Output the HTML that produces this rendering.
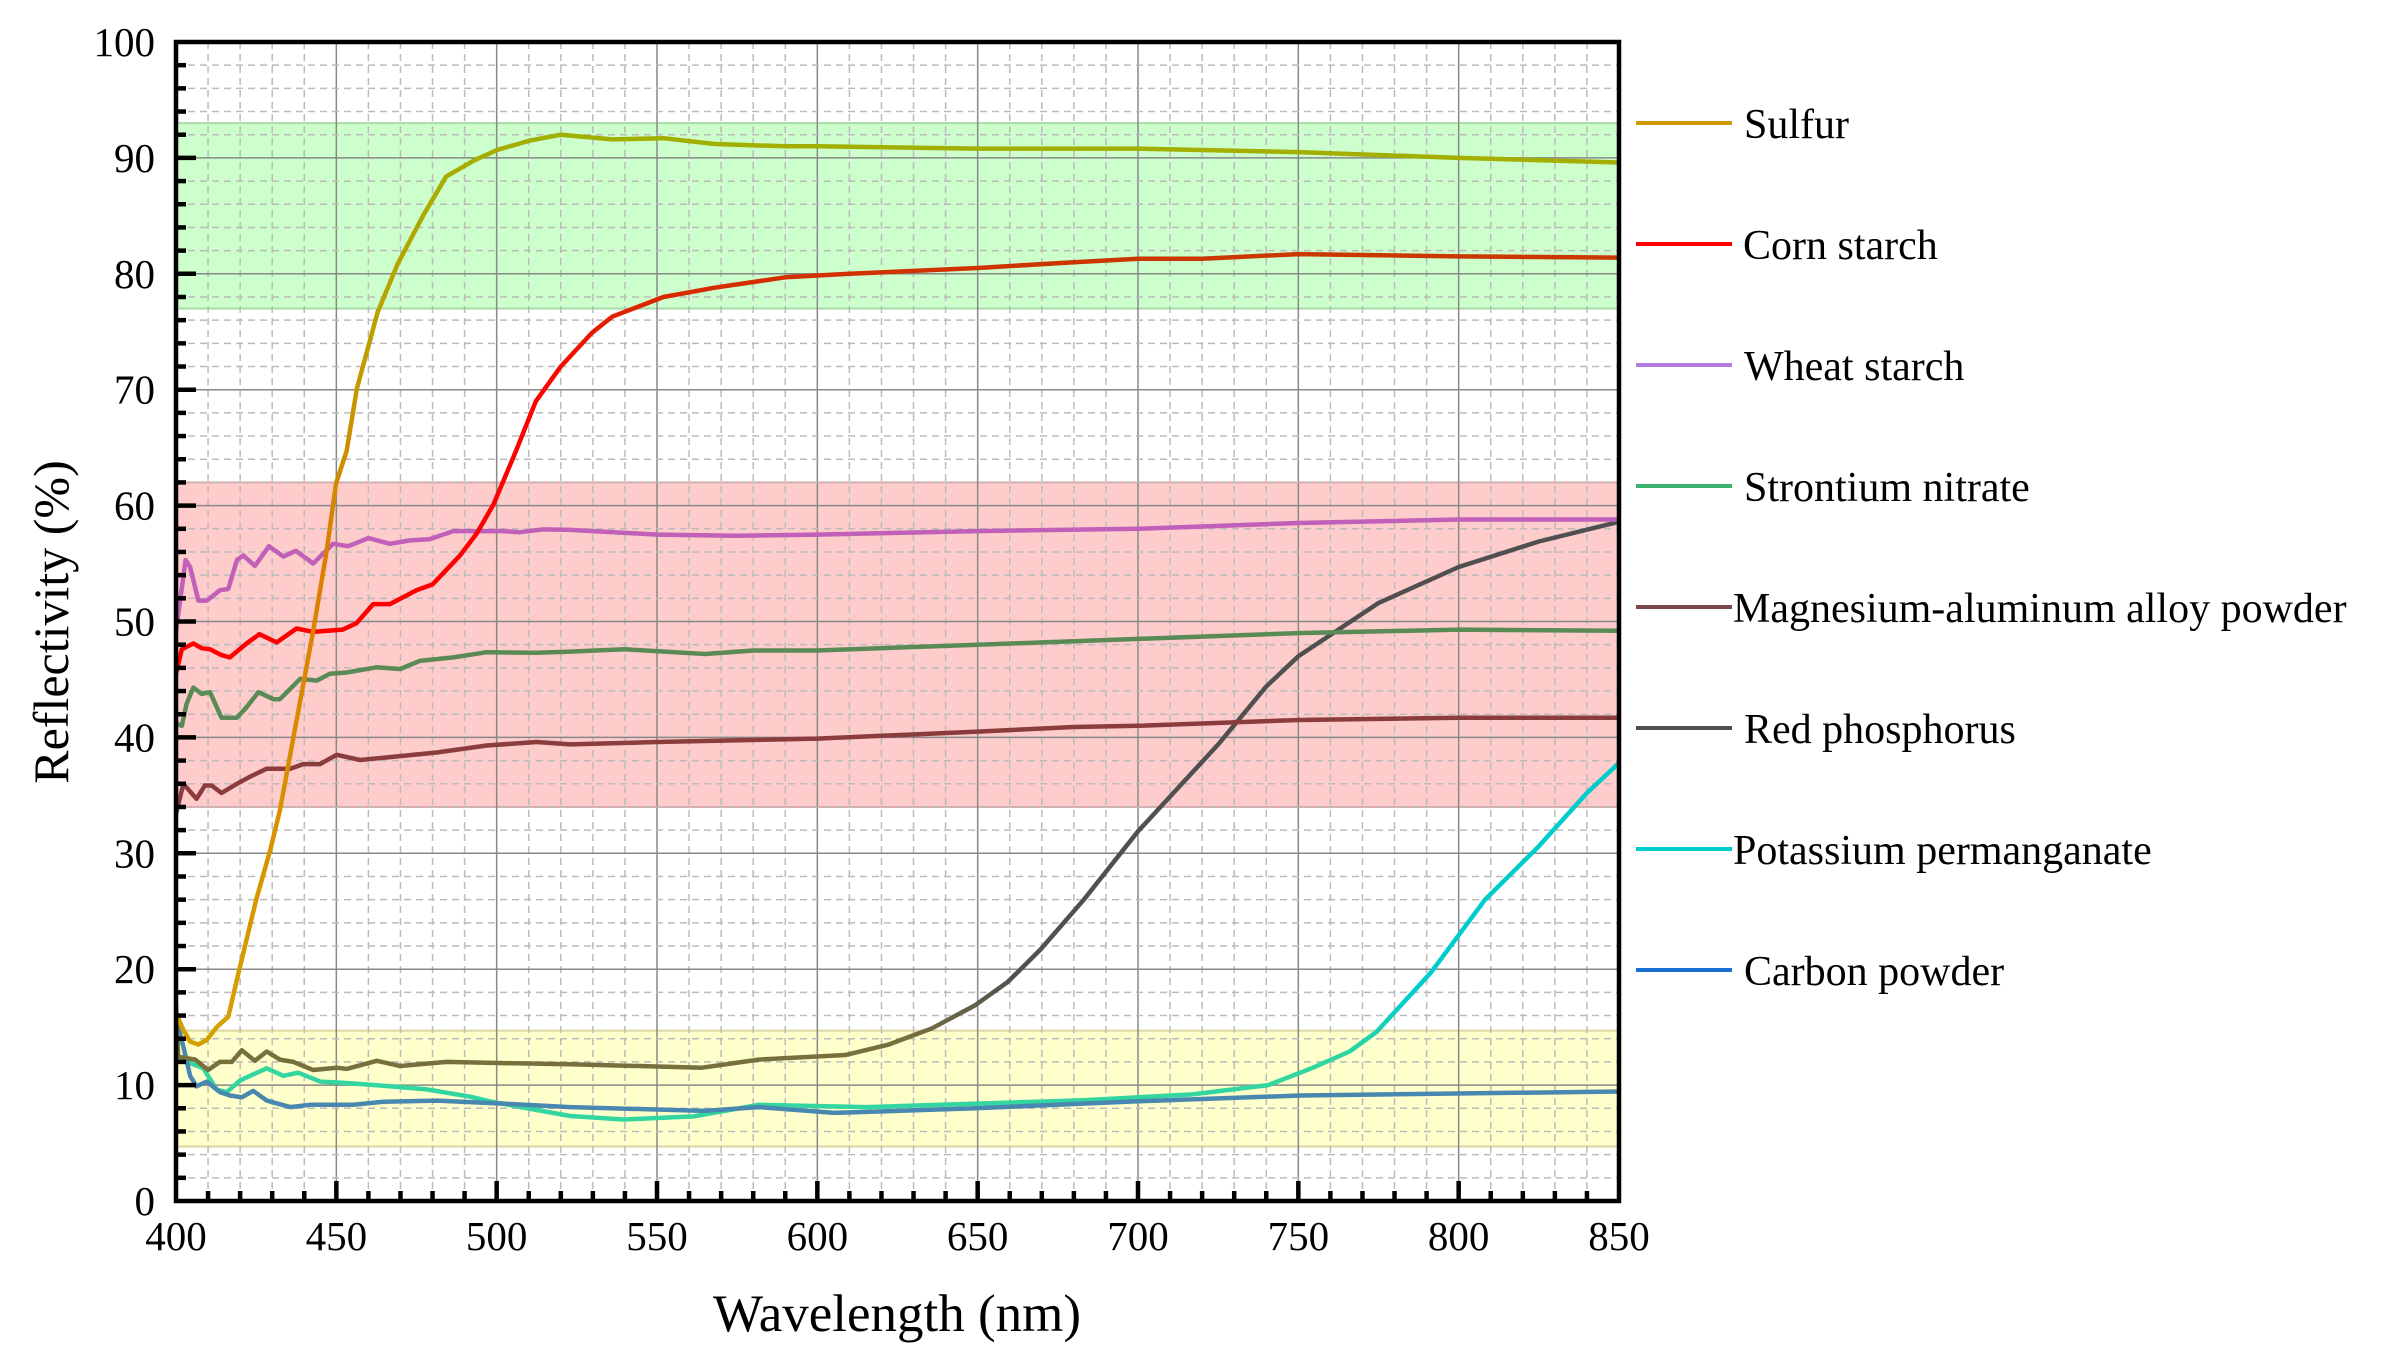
<!DOCTYPE html>
<html><head><meta charset="utf-8"><title>Reflectivity chart</title>
<style>
html,body{margin:0;padding:0;background:#fff;}
svg{display:block;font-family:"Liberation Serif","Times New Roman",serif;}
</style></head>
<body>
<svg id="chart" width="2390" height="1369" viewBox="0 0 2390 1369" xmlns="http://www.w3.org/2000/svg">
<defs>
<linearGradient id="g-sulfur" gradientUnits="userSpaceOnUse" x1="0" y1="1027" x2="0" y2="135">
<stop offset="0" stop-color="#d4a000"/><stop offset="0.52" stop-color="#dd7d00"/><stop offset="0.78" stop-color="#bca000"/><stop offset="1" stop-color="#a0b000"/></linearGradient>
<linearGradient id="g-corn" gradientUnits="userSpaceOnUse" x1="0" y1="400" x2="0" y2="250">
<stop offset="0" stop-color="#ff0000"/><stop offset="1" stop-color="#c83a00"/></linearGradient>
<linearGradient id="g-redp" gradientUnits="userSpaceOnUse" x1="0" y1="1040" x2="0" y2="980">
<stop offset="0" stop-color="#77703d"/><stop offset="1" stop-color="#505050"/></linearGradient>
<linearGradient id="g-kmno" gradientUnits="userSpaceOnUse" x1="0" y1="1060" x2="0" y2="1000">
<stop offset="0" stop-color="#33d6a0"/><stop offset="1" stop-color="#00cccc"/></linearGradient>
</defs>
<g id="bands"></g>
<g id="grid"></g>
<g id="series" clip-path="url(#clip)"></g>
<clipPath id="clip"><rect x="176" y="42" width="1443" height="1159"/></clipPath>
<g id="axes"></g>
<g id="legend"></g>
<text x="897" y="1331" font-size="53" text-anchor="middle">Wavelength (nm)</text>
<text transform="translate(68,622) rotate(-90)" font-size="50" text-anchor="middle">Reflectivity (%)</text>
</svg>
<script>
const NS = "http://www.w3.org/2000/svg";
const seriesNames = ["Sulfur","Corn starch","Wheat starch","Strontium nitrate","Magnesium-aluminum alloy powder","Red phosphorus","Potassium permanganate","Carbon powder"];
const xTicks = [400,450,500,550,600,650,700,750,800,850];
const yTicks = [0,10,20,30,40,50,60,70,80,90,100];
const bandRanges = [[77,93],[34,62],[4.7,14.7]];

const sulfurX = [400,402.3,404.4,407,409.6,412.7,416.3,419,425,429.3,432.4,439.7,442.8,447,449.9,453.2,456.4,462.9,469.2,477.2,484.3,493.1,500.3,510.5,520,536,552,568,590,600,650,700,750,800,850];
const sulfurY = [16.2,14.75,13.75,13.5,13.9,15,15.9,19.1,26,30.2,33.7,44.6,49.2,56.1,61.9,64.7,70.1,76.7,80.9,85.1,88.4,89.8,90.7,91.5,92,91.6,91.7,91.2,91,91,90.8,90.8,90.5,90,89.6];
const cornX = [400,401.8,405.4,408,410.6,414.2,416.8,422,426,431.4,437.6,442.8,452,456.3,461.5,466.7,475,480,488.6,493.8,499,506,512.2,520,529.7,536,552,568,590,610,650,680,700,720,750,800,850];
const cornY = [45.5,47.6,48.1,47.7,47.6,47.1,46.9,48.1,48.9,48.2,49.4,49.1,49.3,49.85,51.5,51.5,52.7,53.2,55.7,57.6,60.1,64.7,69,72,74.9,76.3,78,78.8,79.7,80,80.5,81,81.3,81.3,81.7,81.5,81.4];
const wheatX = [400,403,404.4,407,409.6,413.7,416.3,419,421,424.6,429,433.5,437.4,442.8,449,453.7,460,466.7,473,479,486.5,502,507,514.5,523,550,575,600,650,700,750,800,850];
const wheatY = [49.2,55.3,54.7,51.8,51.8,52.7,52.8,55.3,55.7,54.8,56.5,55.6,56.1,55,56.7,56.5,57.2,56.7,57,57.1,57.8,57.8,57.7,57.95,57.9,57.5,57.4,57.5,57.8,58,58.5,58.8,58.8];
const srX = [400,401.8,403.3,405.4,408,410.6,414.2,419,422,425.7,430.4,432.4,438.7,443.9,448,453.2,462.6,469.9,476,486.5,496.9,512.5,522.9,540,565,580,600,650,700,750,800,850];
const srY = [41.2,41,42.9,44.3,43.75,43.9,41.7,41.7,42.6,43.9,43.3,43.3,45.05,44.9,45.5,45.6,46.05,45.9,46.6,46.9,47.35,47.3,47.4,47.6,47.2,47.5,47.5,48,48.5,49,49.3,49.2];
const mgX = [400,402.3,406.4,409,411.1,414.2,419,423,428.3,435.6,439.7,444.9,450.1,457.4,466.7,481.3,496.9,512.5,522.9,550,600,650,680,700,750,800,850];
const mgY = [33.4,36,34.7,35.85,35.85,35.2,36,36.6,37.3,37.3,37.7,37.7,38.5,38.05,38.3,38.7,39.3,39.6,39.4,39.6,39.9,40.5,40.9,41,41.5,41.7,41.7];
const redpX = [400,400.7,406,410,413.7,417.4,420.5,424.6,428.3,432.4,436.6,442.8,450.1,453.2,462.6,469.9,484.4,502.1,522.9,564,581.7,608.7,622.3,635.8,649.3,659.4,669.6,683.1,700,725,740,750,775,800,825,850];
const redpY = [17,12.45,12.2,11.3,12,12,13,12.1,12.9,12.2,12,11.3,11.5,11.4,12.1,11.65,12,11.9,11.8,11.5,12.2,12.6,13.5,14.9,16.9,18.9,21.7,26,31.9,39.4,44.4,47,51.6,54.7,56.9,58.6];
const kX = [400,404.4,408.5,412.7,415.8,420,423.6,428.3,433.5,438.1,445,452,465.7,478.2,491.7,497.9,512.5,522.9,539.5,561.5,581.7,615.5,683.1,716.9,740.6,754.1,766,774.4,791.3,808.2,825,840,850];
const kY = [12.4,11.9,11.45,9.6,9.4,10.4,10.86,11.45,10.8,11.07,10.3,10.2,9.92,9.63,9,8.6,7.85,7.33,7.03,7.3,8.3,8.1,8.7,9.2,10,11.45,12.9,14.6,19.7,26,30.6,35.2,37.8];
const carbonX = [400,402.3,404.4,406.4,409.6,413.7,416.8,420.5,424.1,428.3,435.6,441.8,455.3,464.7,481.3,502.1,522.9,564.8,581.7,605.4,649.3,700,750.7,850];
const carbonY = [15.9,13.3,10.8,9.9,10.3,9.4,9.1,8.95,9.5,8.66,8.1,8.3,8.3,8.57,8.66,8.4,8.1,7.77,8.1,7.6,8.0,8.6,9.1,9.45];

const X0=176, X1=1619, Y0=1201, Y1=42;
function xs(v){return X0+(v-400)/450*(X1-X0);}
function ys(v){return Y0-(v/100)*(Y0-Y1);}
function mk(tag,attrs,parent){const e=document.createElementNS(NS,tag);for(const k in attrs)e.setAttribute(k,attrs[k]);parent.appendChild(e);return e;}

// bands
const bandG=document.getElementById('bands');
const bandFill=["#ccffcc","#ffcccc","#ffffcc"], bandStroke=["#a8dca8","#e0a8a8","#d8d8a0"], bandNames=["green-band","red-band","yellow-band"];
bandRanges.forEach((b,i)=>{
  const r=mk('rect',{x:X0,y:ys(b[1]),width:X1-X0,height:ys(b[0])-ys(b[1]),fill:bandFill[i],stroke:bandStroke[i],'stroke-width':2},bandG);
  
  
});

// grid
const gridG=document.getElementById('grid');
for(let v=410; v<850; v+=10){
  const major = v%50===0;
  const l=mk('line',{x1:xs(v),x2:xs(v),y1:Y1,y2:Y0,stroke:major?'#888':'#bbb','stroke-width':major?1.5:1.5,'stroke-dasharray':major?'none':'7 5'},gridG);
  
  
}
for(let v=2; v<100; v+=2){
  const major = v%10===0;
  const l=mk('line',{x1:X0,x2:X1,y1:ys(v),y2:ys(v),stroke:major?'#888':'#bbb','stroke-width':1.5,'stroke-dasharray':major?'none':'7 5'},gridG);
  
  
}

// series
const serG=document.getElementById('series');
const allX=[sulfurX,cornX,wheatX,srX,mgX,redpX,kX,carbonX];
const allY=[sulfurY,cornY,wheatY,srY,mgY,redpY,kY,carbonY];
const plotColors=["url(#g-sulfur)","url(#g-corn)","#c060b8","#5a8a55","#8b3c3c","url(#g-redp)","url(#g-kmno)","#4888b0"];
const seriesIds=["sulfur","corn-starch","wheat-starch","strontium-nitrate","mg-al-alloy","red-phosphorus","potassium-permanganate","carbon-powder"];
const order=[6,7,5,4,3,2,1,0];
order.forEach(i=>{
  let d=''; allX[i].forEach((x,j)=>{d+=(j?'L':'M')+xs(x).toFixed(1)+','+ys(allY[i][j]).toFixed(1);});
  const p=mk('path',{d:d,fill:'none',stroke:plotColors[i],'stroke-width':4.5,'stroke-linejoin':'round','stroke-linecap':'round'},serG);
  
  
});

// axes
const axG=document.getElementById('axes');
const frame=mk('rect',{x:X0,y:Y1,width:X1-X0,height:Y0-Y1,fill:'none',stroke:'#000','stroke-width':4.5},axG);


for(let v=410; v<850; v+=10){
  const major=v%50===0;
  const t=mk('line',{x1:xs(v),x2:xs(v),y1:Y0,y2:Y0-(major?20:10),stroke:'#000','stroke-width':4.5},axG);
  
  
}
for(let v=2; v<100; v+=2){
  const major=v%10===0;
  const t=mk('line',{x1:X0,x2:X0+(major?20:10),y1:ys(v),y2:ys(v),stroke:'#000','stroke-width':4.5},axG);
  
  
}
xTicks.forEach(v=>{
  const t=mk('text',{x:xs(v),y:1250,'font-size':41,'text-anchor':'middle'},axG);
  t.textContent=v;
  
  
});
yTicks.forEach(v=>{
  const t=mk('text',{x:155,y:ys(v)+14,'font-size':41,'text-anchor':'end'},axG);
  t.textContent=v;
  
  
});

// legend
const legG=document.getElementById('legend');
const legColors=["#cc9900","#ff0000","#b57ae0","#3cb371","#7a4a4a","#505050","#00cccc","#1a6fd4"];
const legTextX=[1744,1743,1744,1744,1733,1744,1733,1744];
seriesNames.forEach((n,i)=>{
  const y=123+i*121;
  const g=mk('g',{},legG);
  
  
  const l=mk('line',{x1:1636,x2:1732,y1:y,y2:y,stroke:legColors[i],'stroke-width':4},g);
  
  
  const t=mk('text',{x:legTextX[i],y:y+15,'font-size':42},g);
  t.textContent=n;
  
  
});
</script>
</body></html>
